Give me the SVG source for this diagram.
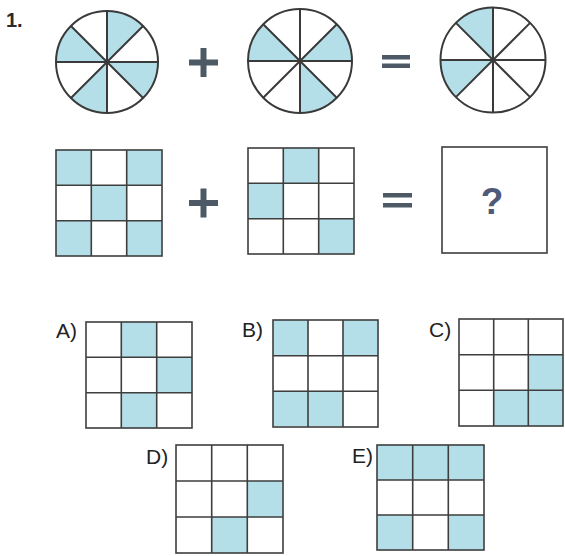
<svg xmlns="http://www.w3.org/2000/svg" width="565" height="556" viewBox="0 0 565 556">
<style>
.bg{fill:#fff}
.sh{fill:#b5dfe8}
.ln{stroke:#3a3a3a;stroke-width:2;fill:none}
.gl{stroke:#3e3e3e;stroke-width:1.6;fill:none}
.op{fill:#4d5a66}
.lbl{font-family:"Liberation Sans",Arial,sans-serif;font-size:21px;fill:#222}
.num{font-family:"Liberation Sans",Arial,sans-serif;font-size:20px;font-weight:bold;fill:#2a2a2a}
.q{font-family:"Liberation Sans",Arial,sans-serif;font-size:37px;font-weight:bold;fill:#4e5a78}
</style>
<rect class="bg" width="565" height="556"/>
<text class="num" x="6" y="27">1.</text>

<g id="circle1" transform="translate(107,62)">
<path class="sh" d="M0,0 L0,-51 A51,51 0 0,1 36.06,-36.06 Z"/>
<path class="sh" d="M0,0 L51,0 A51,51 0 0,1 36.06,36.06 Z"/>
<path class="sh" d="M0,0 L0,51 A51,51 0 0,1 -36.06,36.06 Z"/>
<path class="sh" d="M0,0 L-51,0 A51,51 0 0,1 -36.06,-36.06 Z"/>
<circle class="ln" r="51"/>
<path class="ln" d="M0,-51 V51 M-51,0 H51 M-36.06,-36.06 L36.06,36.06 M36.06,-36.06 L-36.06,36.06"/>
</g>

<g id="plus1"><rect class="op" x="189" y="59.5" width="29" height="6"/><rect class="op" x="200.5" y="48" width="6" height="29"/></g>

<g id="circle2" transform="translate(300,61)">
<path class="sh" d="M0,0 L36.77,-36.77 A52,52 0 0,1 52,0 Z"/>
<path class="sh" d="M0,0 L36.77,36.77 A52,52 0 0,1 0,52 Z"/>
<path class="sh" d="M0,0 L-52,0 A52,52 0 0,1 -36.77,-36.77 Z"/>
<circle class="ln" r="52"/>
<path class="ln" d="M0,-52 V52 M-52,0 H52 M-36.77,-36.77 L36.77,36.77 M36.77,-36.77 L-36.77,36.77"/>
</g>

<g id="equals1"><rect class="op" x="382" y="55" width="28" height="4.5"/><rect class="op" x="382" y="63.5" width="28" height="4.5"/></g>

<g id="circle3" transform="translate(493,60)">
<path class="sh" d="M0,0 L-37.12,-37.12 A52.5,52.5 0 0,1 0,-52.5 Z"/>
<path class="sh" d="M0,0 L-37.12,37.12 A52.5,52.5 0 0,1 -52.5,0 Z"/>
<circle class="ln" r="52.5"/>
<path class="ln" d="M0,-52.5 V52.5 M-52.5,0 H52.5 M-37.12,-37.12 L37.12,37.12 M37.12,-37.12 L-37.12,37.12"/>
</g>

<g id="grid1" transform="translate(56,150)">
<rect class="sh" x="0" y="0" width="35.3" height="35.3"/>
<rect class="sh" x="70.7" y="0" width="35.3" height="35.3"/>
<rect class="sh" x="35.3" y="35.3" width="35.3" height="35.3"/>
<rect class="sh" x="0" y="70.7" width="35.3" height="35.3"/>
<rect class="sh" x="70.7" y="70.7" width="35.3" height="35.3"/>
<rect class="gl" width="106" height="106"/>
<path class="gl" d="M35.3,0 V106 M70.7,0 V106 M0,35.3 H106 M0,70.7 H106"/>
</g>

<g id="plus2"><rect class="op" x="189" y="200" width="29" height="6"/><rect class="op" x="200.5" y="188.5" width="6" height="29"/></g>

<g id="grid2" transform="translate(248,148)">
<rect class="sh" x="35.3" y="0" width="35.3" height="35.3"/>
<rect class="sh" x="0" y="35.3" width="35.3" height="35.3"/>
<rect class="sh" x="70.7" y="70.7" width="35.3" height="35.3"/>
<rect class="gl" width="106" height="106"/>
<path class="gl" d="M35.3,0 V106 M70.7,0 V106 M0,35.3 H106 M0,70.7 H106"/>
</g>

<g id="equals2"><rect class="op" x="383" y="193" width="29" height="4.5"/><rect class="op" x="383" y="203" width="29" height="4.5"/></g>

<g id="answer">
<rect class="gl" x="442" y="147" width="105" height="106"/>
<text class="q" x="492" y="214" text-anchor="middle">?</text>
</g>

<g id="optA">
<text class="lbl" x="56" y="338">A)</text>
<g transform="translate(86,322)">
<rect class="sh" x="35.3" y="0" width="35.3" height="35.3"/>
<rect class="sh" x="70.7" y="35.3" width="35.3" height="35.3"/>
<rect class="sh" x="35.3" y="70.7" width="35.3" height="35.3"/>
<rect class="gl" width="106" height="106"/>
<path class="gl" d="M35.3,0 V106 M70.7,0 V106 M0,35.3 H106 M0,70.7 H106"/>
</g>
</g>

<g id="optB">
<text class="lbl" x="242" y="337">B)</text>
<g transform="translate(273,320)">
<rect class="sh" x="0" y="0" width="35" height="35.3"/>
<rect class="sh" x="70" y="0" width="35" height="35.3"/>
<rect class="sh" x="0" y="70.7" width="35" height="35.3"/>
<rect class="sh" x="35" y="70.7" width="35" height="35.3"/>
<rect class="gl" width="105" height="107"/>
<path class="gl" d="M35,0 V107 M70,0 V107 M0,35.7 H105 M0,71.3 H105"/>
</g>
</g>

<g id="optC">
<text class="lbl" x="429" y="337">C)</text>
<g transform="translate(459,319)">
<rect class="sh" x="69.3" y="35.7" width="34.7" height="35.7"/>
<rect class="sh" x="34.7" y="71.3" width="34.7" height="35.7"/>
<rect class="sh" x="69.3" y="71.3" width="34.7" height="35.7"/>
<rect class="gl" width="104" height="107"/>
<path class="gl" d="M34.7,0 V107 M69.3,0 V107 M0,35.7 H104 M0,71.3 H104"/>
</g>
</g>

<g id="optD">
<text class="lbl" x="146" y="464">D)</text>
<g transform="translate(176,445)">
<rect class="sh" x="71.3" y="36" width="35.7" height="36"/>
<rect class="sh" x="35.7" y="72" width="35.7" height="36"/>
<rect class="gl" width="107" height="108"/>
<path class="gl" d="M35.7,0 V108 M71.3,0 V108 M0,36 H107 M0,72 H107"/>
</g>
</g>

<g id="optE">
<text class="lbl" x="352" y="463">E)</text>
<g transform="translate(377,445)">
<rect class="sh" x="0" y="0" width="107" height="35"/>
<rect class="sh" x="0" y="70" width="35.7" height="35"/>
<rect class="sh" x="71.3" y="70" width="35.7" height="35"/>
<rect class="gl" width="107" height="105"/>
<path class="gl" d="M35.7,0 V105 M71.3,0 V105 M0,35 H107 M0,70 H107"/>
</g>
</g>
</svg>
